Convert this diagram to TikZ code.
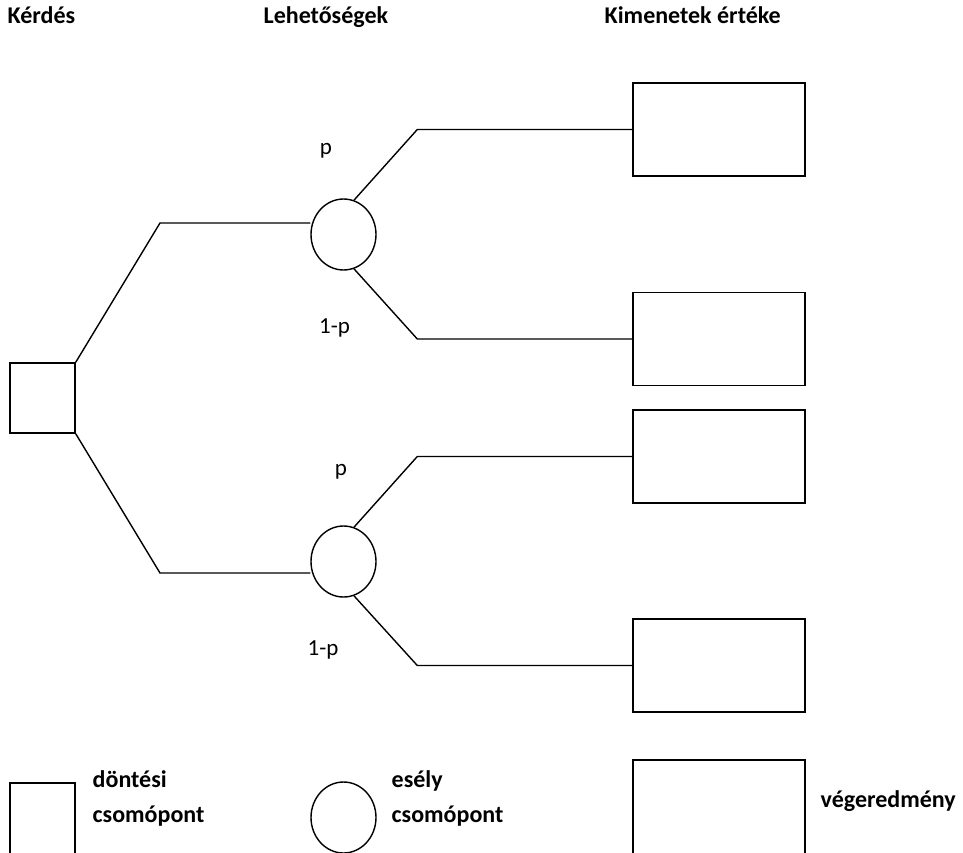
\documentclass[tikz,border=0pt]{standalone}
\usepackage{fontspec}
\setmainfont{Carlito}
\usetikzlibrary{shapes.geometric}

\begin{document}
\begin{tikzpicture}[x=1pt,y=-1pt,line width=1.4pt,
    dontes/.style={draw,rectangle,minimum width=65pt,minimum height=70pt,inner sep=0pt},
    esely/.style={draw,ellipse,minimum width=65pt,minimum height=71pt,inner sep=0pt},
    veg/.style={draw,rectangle,minimum width=172pt,minimum height=93pt,inner sep=0pt},
    cim/.style={anchor=base west,inner sep=0pt,font=\bfseries\fontsize{24}{29}\selectfont},
    valsz/.style={anchor=base,inner sep=0pt,font=\fontsize{23}{28}\selectfont}]
      \useasboundingbox (0,0) rectangle (963,853);
      \clip (0,0) rectangle (963,853);
      \node[cim] (h1) at (7,24)   {Kérdés};
      \node[cim] (h2) at (263,24) {Lehetőségek};
      \node[cim] (h3) at (604,24) {Kimenetek értéke};
      \node[dontes] (d)  at (42.5,398)   {};
      \node[esely]  (c1) at (343.5,234.5) {};
      \node[esely]  (c2) at (343.5,561.5) {};
      \node[veg] (v1) at (719,129.5) {};
      \node[veg] (v2) at (719,339)   {};
      \node[veg] (v3) at (719,456.5) {};
      \node[veg] (v4) at (719,665.5) {};
      \coordinate (t1) at (160,223);
      \coordinate (t2) at (160,573);
      \draw (d.north east) -- (t1) -- (t1 -| c1.west);
      \draw (d.south east) -- (t2) -- (t2 -| c2.west);
      \draw (c1.73)  -- ([xshift=-215pt]v1.west) -- (v1.west);
      \draw (c1.-73) -- ([xshift=-215pt]v2.west) -- (v2.west);
      \draw (c2.73)  -- ([xshift=-215pt]v3.west) -- (v3.west);
      \draw (c2.-73) -- ([xshift=-215pt]v4.west) -- (v4.west);
      \node[valsz] (p1) at (326,155)   {p};
      \node[valsz] (q1) at (334.5,333) {1-p};
      \node[valsz] (p2) at (341,475)   {p};
      \node[valsz] (q2) at (323,655)   {1-p};
      \node[dontes,minimum height=74pt] (ld) at (42.5,820) {};
      \node[esely] (lc) at (343.5,817.5) {};
      \node[veg,minimum height=96pt] (lv) at (719,808) {};
      \node[cim] (ld1) at (92,787)  {döntési};
      \node[cim] (ld2) at (92,822)  {csomópont};
      \node[cim] (lc1) at (391,787) {esély};
      \node[cim] (lc2) at (391,822) {csomópont};
      \node[cim] (lv1) at (820,807) {végeredmény};
     \end{tikzpicture}
\end{document}
